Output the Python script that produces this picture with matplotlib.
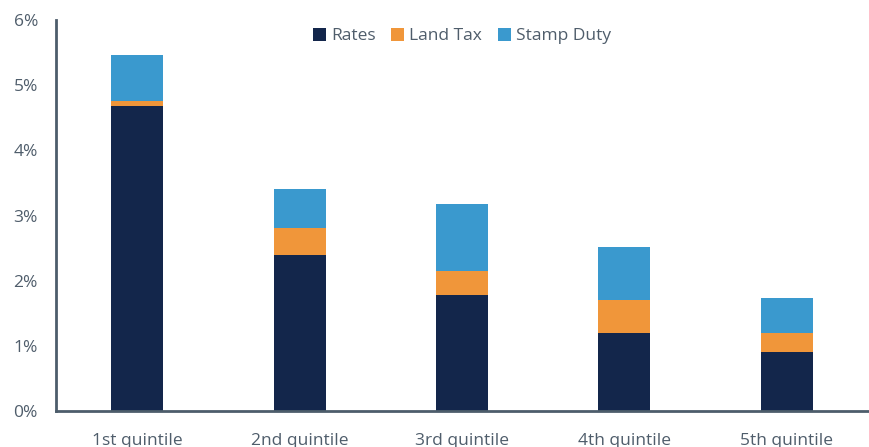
import matplotlib.pyplot as plt
import matplotlib.ticker as ticker
import numpy as np

plt.rcParams['font.family'] = ['Open Sans', 'DejaVu Sans']

categories = ["1st quintile", "2nd quintile", "3rd quintile", "4th quintile", "5th quintile"]
rates = [4.68, 2.39, 1.78, 1.20, 0.90]
land_tax = [0.07, 0.42, 0.37, 0.50, 0.30]
stamp_duty = [0.72, 0.59, 1.02, 0.81, 0.53]

navy = "#13264b"
orange = "#f0963a"
blue = "#3a99ce"
text_col = "#4f5d6b"

fig = plt.figure(figsize=(8.69, 4.47), dpi=100)
ax = fig.add_axes([56 / 869, 36 / 447, 812 / 869, 391 / 447])

x = np.arange(len(categories))
w = 0.32
ax.bar(x, rates, w, color=navy, label="Rates")
ax.bar(x, land_tax, w, bottom=rates, color=orange, label="Land Tax")
bottom2 = np.array(rates) + np.array(land_tax)
ax.bar(x, stamp_duty, w, bottom=bottom2, color=blue, label="Stamp Duty")

ax.set_xlim(-0.5, 4.5)
ax.set_ylim(0, 6)
ax.set_xticks(x)
ax.set_xticklabels(categories)
ax.set_yticks(range(0, 7))
ax.yaxis.set_major_formatter(ticker.FuncFormatter(lambda v, p: f"{int(v)}%"))
ax.tick_params(axis='both', length=0, labelsize=12.5, colors=text_col)
ax.tick_params(axis='x', pad=16)
ax.tick_params(axis='y', pad=13)

for s in ['top', 'right']:
    ax.spines[s].set_visible(False)
for s in ['left', 'bottom']:
    ax.spines[s].set_color("#4d5d6b")
    ax.spines[s].set_linewidth(2)

ax.legend(loc='upper center', bbox_to_anchor=(0.5, 1.02), ncol=3, frameon=False,
          fontsize=12.5, labelcolor=text_col, handlelength=0.75, handleheight=0.75,
          handletextpad=0.3, columnspacing=0.9)

plt.savefig("out.png", dpi=100)
